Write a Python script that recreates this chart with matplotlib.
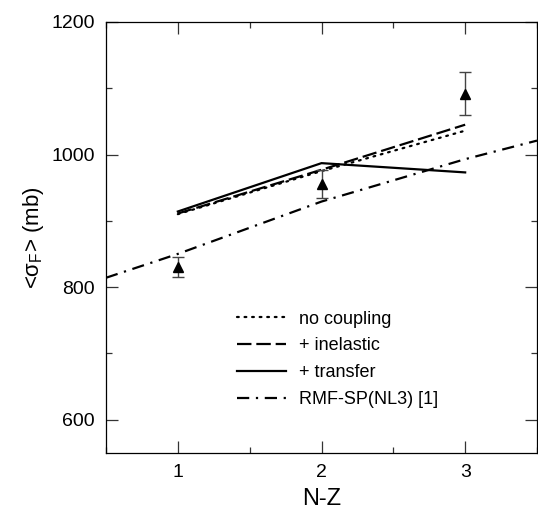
import matplotlib
matplotlib.use("Agg")
import matplotlib.pyplot as plt
from matplotlib.ticker import MultipleLocator

plt.rcParams['font.family'] = ['Liberation Sans', 'DejaVu Sans']
plt.rcParams['mathtext.fontset'] = 'custom'
plt.rcParams['mathtext.rm'] = 'Liberation Sans'

nz = [1, 2, 3]
exp_val = [830, 955, 1092]
exp_err = [15, 21, 33]

no_coupling = [910, 975, 1036]
inelastic = [911, 977, 1045]
transfer = [914, 987, 973]

rmf_x = [0.5, 1, 2, 3, 3.5]
rmf_y = [814, 850, 929, 993, 1021]

fig = plt.figure(figsize=(5.38, 5.09), dpi=100)
ax = fig.add_axes([106/538, 1 - 452.7/509, (537 - 106)/538, (452.7 - 22)/509])

lw = 1.6
ax.plot(nz, no_coupling, color='black', lw=lw, linestyle=(0, (0.8, 2.6)),
        dash_capstyle='round', label='no coupling')
ax.plot(nz, inelastic, color='black', lw=lw, linestyle=(0, (6.5, 2.2)), label='+ inelastic')
ax.plot(nz, transfer, color='black', lw=lw, linestyle='-', label='+ transfer')
ax.plot(rmf_x, rmf_y, color='black', lw=lw, linestyle=(0, (5.5, 3.0, 1.0, 3.0)),
        label='RMF-SP(NL3) [1]')

ax.errorbar(nz, exp_val, yerr=exp_err, fmt='^', color='black', ms=7,
            ecolor='#444444', elinewidth=1.0, capsize=4, capthick=1.0, zorder=5)

ax.set_xlim(0.5, 3.5)
ax.set_ylim(550, 1200)
ax.set_xticks([1, 2, 3])
ax.set_yticks([600, 800, 1000, 1200])
ax.xaxis.set_minor_locator(MultipleLocator(0.5))
ax.yaxis.set_minor_locator(MultipleLocator(100))
ax.tick_params(which='both', direction='in', top=True, right=True, labelsize=14,
               width=0.9, color='#333333')
ax.tick_params(which='major', length=8.5, pad=8)
ax.tick_params(which='minor', length=4.5)
for s in ax.spines.values():
    s.set_linewidth(0.9)

ax.set_xlabel('N-Z', fontsize=17, labelpad=5)
ax.set_ylabel(r'<$\mathregular{\sigma_F}$> (mb)', fontsize=16, labelpad=4)

leg = ax.legend(loc='upper left', bbox_to_anchor=(0.305, 0.33), frameon=False,
                fontsize=13, handlelength=2.7, handletextpad=0.72, labelspacing=0.55,
                borderaxespad=0, borderpad=0)

fig.savefig('out.png', dpi=100)
